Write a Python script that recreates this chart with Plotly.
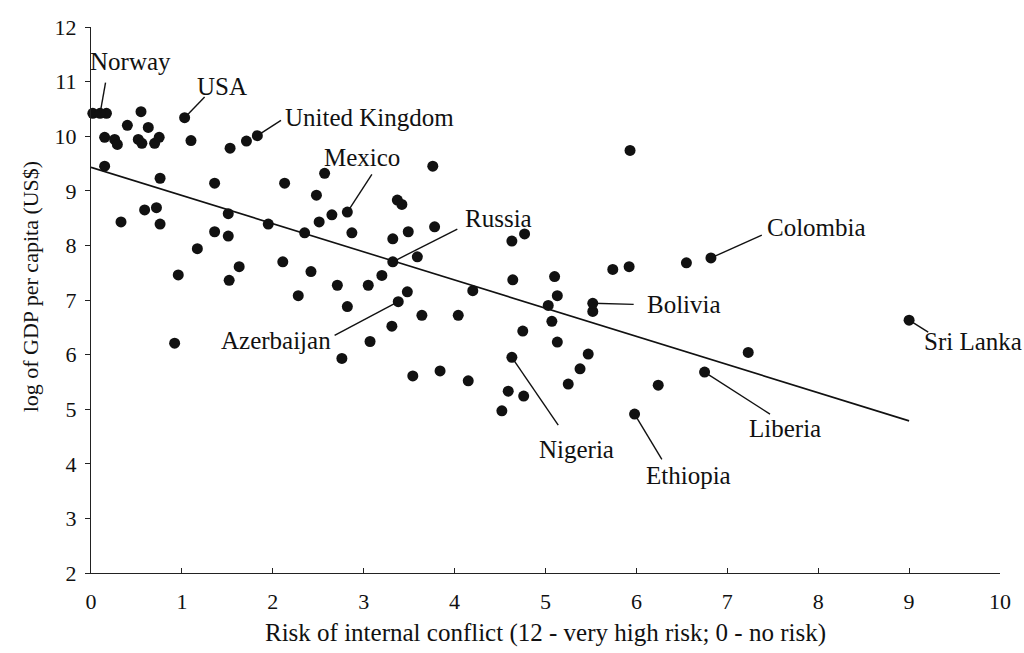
import plotly.graph_objects as go

# Labelled countries: risk of internal conflict vs log GDP per capita
named_countries = ["Norway", "USA", "United Kingdom", "Mexico", "Russia", "Colombia",
                   "Bolivia", "Azerbaijan", "Nigeria", "Ethiopia", "Liberia", "Sri Lanka"]
named_risk = [0.10, 1.03, 1.83, 2.82, 3.32, 6.82, 5.52, 3.38, 4.63, 5.98, 6.75, 9.00]
named_gdp = [10.42, 10.34, 10.01, 8.61, 7.70, 7.77, 6.94, 6.97, 5.95, 4.91, 5.68, 6.63]

# Remaining countries
other_risk = [0.02, 0.17, 0.55, 0.40, 0.63, 0.15, 0.26, 0.29, 0.52, 0.56, 0.70, 0.75,
              1.10, 1.53, 1.71, 0.15, 0.76, 1.36, 2.13, 2.57, 2.48, 2.65, 2.51, 0.59,
              0.72, 0.33, 0.76, 1.51, 1.95, 1.36, 1.51, 2.35, 2.87,
              3.76, 3.37, 3.42, 3.32, 3.49, 3.78, 4.63, 4.77, 3.59, 2.42, 2.71, 3.05,
              3.20, 3.48, 2.82, 4.20, 4.64, 5.10, 5.13, 5.03, 5.52,
              1.17, 0.96, 1.63, 1.52, 2.11, 2.28, 3.64, 3.31, 3.07, 2.76, 0.92, 3.54, 3.84,
              4.04, 5.07, 4.75, 5.13, 5.47, 5.38, 5.25, 4.15, 4.59, 4.76, 4.52, 6.24,
              5.93, 5.74, 5.92, 6.55, 7.23]
other_gdp = [10.42, 10.42, 10.45, 10.20, 10.16, 9.98, 9.94, 9.85, 9.94, 9.87, 9.87, 9.98,
             9.92, 9.78, 9.91, 9.45, 9.23, 9.14, 9.14, 9.32, 8.92, 8.56, 8.43, 8.65,
             8.69, 8.43, 8.39, 8.58, 8.39, 8.25, 8.17, 8.23, 8.23,
             9.45, 8.83, 8.75, 8.12, 8.25, 8.34, 8.08, 8.21, 7.79, 7.52, 7.27, 7.27,
             7.45, 7.15, 6.88, 7.17, 7.37, 7.43, 7.08, 6.90, 6.79,
             7.94, 7.46, 7.61, 7.36, 7.70, 7.08, 6.72, 6.52, 6.24, 5.93, 6.21, 5.61, 5.70,
             6.72, 6.61, 6.43, 6.23, 6.01, 5.74, 5.46, 5.52, 5.33, 5.24, 4.97, 5.44,
             9.74, 7.56, 7.61, 7.68, 6.04]

# Fitted trend line
trend_intercept = 9.43
trend_slope = -0.516
trend_x = [0.0, 9.0]

# Label text positions (data coords) and leader-line end points
label_pos = {
    "Norway": (0.43, 11.36, "center"),
    "USA": (1.44, 10.91, "center"),
    "United Kingdom": (2.11, 10.34, "left"),
    "Mexico": (2.98, 9.61, "center"),
    "Russia": (4.09, 8.50, "left"),
    "Colombia": (7.41, 8.32, "left"),
    "Bolivia": (6.09, 6.92, "left"),
    "Azerbaijan": (2.66, 6.26, "right"),
    "Nigeria": (5.34, 4.26, "center"),
    "Ethiopia": (6.57, 3.79, "center"),
    "Liberia": (7.63, 4.64, "center"),
    "Sri Lanka": (9.14, 6.24, "left"),
}
leader_end = {
    "Norway": (0.16, 10.98),
    "USA": (1.25, 10.72),
    "United Kingdom": (2.09, 10.29),
    "Mexico": (3.09, 9.30),
    "Russia": (4.03, 8.30),
    "Colombia": (7.38, 8.19),
    "Bolivia": (5.97, 6.92),
    "Azerbaijan": (2.68, 6.35),
    "Nigeria": (5.14, 4.71),
    "Ethiopia": (6.28, 4.08),
    "Liberia": (7.47, 4.91),
    "Sri Lanka": (9.21, 6.41),
}

FONT = "'Liberation Serif', 'Times New Roman', 'DejaVu Serif', serif"
INK = "#111111"

fig = go.Figure()
fig.add_trace(go.Scatter(
    x=other_risk + named_risk, y=other_gdp + named_gdp, mode="markers",
    marker=dict(color=INK, size=11, symbol="circle"),
    cliponaxis=False, showlegend=False, hoverinfo="x+y",
))
fig.add_trace(go.Scatter(
    x=trend_x, y=[trend_intercept + trend_slope * v for v in trend_x], mode="lines",
    line=dict(color=INK, width=1.6), showlegend=False, hoverinfo="skip",
))

for name, rx, gy in zip(named_countries, named_risk, named_gdp):
    ex, ey = leader_end[name]
    fig.add_shape(type="line", x0=rx, y0=gy, x1=ex, y1=ey, xref="x", yref="y",
                  line=dict(color=INK, width=1.4))
    tx, ty, anchor = label_pos[name]
    fig.add_annotation(x=tx, y=ty, xref="x", yref="y", text=name, showarrow=False,
                       xanchor=anchor, yanchor="middle",
                       font=dict(family=FONT, size=25, color=INK))

# Y-axis title, set slightly below the vertical centre of the plot
fig.add_annotation(x=0, y=0.525, xref="paper", yref="paper", xshift=-61,
                   text="log of GDP per capita (US$)", textangle=-90, showarrow=False,
                   xanchor="center", yanchor="middle",
                   font=dict(family=FONT, size=22, color=INK))

fig.update_layout(
    width=1024, height=653,
    margin=dict(l=91, r=24, t=27, b=77),
    paper_bgcolor="white", plot_bgcolor="white",
    font=dict(family=FONT, color=INK),
)
fig.update_xaxes(
    range=[0, 10], tickvals=list(range(0, 11)), showgrid=False, zeroline=False,
    showline=True, linecolor="#222222", linewidth=1.2,
    ticks="inside", ticklen=5, tickcolor="#222222",
    ticklabelstandoff=8,
    tickfont=dict(family=FONT, size=22, color=INK),
    title=dict(text="Risk of internal conflict (12 - very high risk; 0 - no risk)",
               font=dict(family=FONT, size=25, color=INK), standoff=10),
)
fig.update_yaxes(
    range=[2, 12], tickvals=list(range(2, 13)), showgrid=False, zeroline=False,
    showline=True, linecolor="#222222", linewidth=1.2,
    ticks="outside", ticklen=5, tickcolor="#222222",
    ticklabelstandoff=4,
    tickfont=dict(family=FONT, size=22, color=INK),
)

fig.write_html("out.html")
